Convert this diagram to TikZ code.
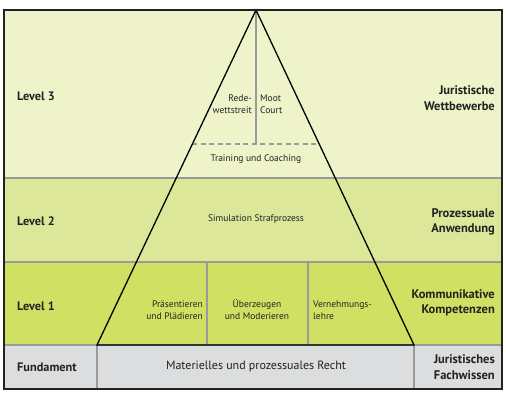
\documentclass[tikz,border=0pt]{standalone}
\usepackage{fontspec}
\setmainfont{PT Sans}
\definecolor{lvthree}{HTML}{EEF3C9}
\definecolor{lvtwo}{HTML}{DDE79A}
\definecolor{lvone}{HTML}{CFE062}
\definecolor{fund}{HTML}{DCDDDE}
\definecolor{divgray}{HTML}{9A9A9A}
\definecolor{txt}{HTML}{222222}
\begin{document}
\begin{tikzpicture}[x=1pt,y=-1pt,
  lvlabel/.style={font=\bfseries\fontsize{12.3}{15}\selectfont, text=txt, anchor=west, inner sep=0},
  rlabel/.style={font=\bfseries\fontsize{12.5}{15.5}\selectfont, text=txt, align=right, anchor=east, inner sep=0},
  small/.style={font=\fontsize{9.5}{12}\selectfont, text=txt, inner sep=0},
  divider/.style={draw=divgray, line width=1.1pt},
  tri/.style={draw=black, line width=1.3pt, line join=miter}]
\useasboundingbox (0,0) rectangle (506,407);
% bands
\fill[lvthree] (4,10) rectangle (502,178);
\fill[lvtwo] (4,178) rectangle (502,262);
\fill[lvone] (4,262) rectangle (502,345);
\fill[fund] (4,345) rectangle (502,389);
\draw[divider] (4,178) -- (502,178);
\draw[divider] (4,262) -- (502,262);
\draw[divider] (4,345) -- (502,345);
% coordinates
\coordinate (apex) at (256,10);
\coordinate (bl) at (97,345);
\coordinate (br) at (414,345);
\coordinate (fbl) at (97,389);
\coordinate (fbr) at (414,389);
\coordinate (d1t) at (207,262);
\coordinate (d1b) at (207,345);
\coordinate (d2t) at (308,262);
\coordinate (d2b) at (308,345);
\coordinate (vb) at (256,144);
\coordinate (dl) at (192.4,144);
\coordinate (dr) at (319.6,144);
% inner dividers
\draw[divider] (bl) -- (fbl);
\draw[divider] (br) -- (fbr);
\draw[divider] (d1t) -- (d1b);
\draw[divider] (d2t) -- (d2b);
\draw[divider] (apex) -- (vb);
\draw[draw=divgray, line width=1.1pt, dash pattern=on 5pt off 3.5pt] (dl) -- (dr);
% triangle
\draw[tri] (bl) -- (apex) -- (br) -- cycle;
% frame
\draw[draw=txt, line width=1.4pt] (4,10) rectangle (502,389);
% left labels
\node[lvlabel] (l3) at (17,96) {Level 3};
\node[lvlabel] (l2) at (17,221) {Level 2};
\node[lvlabel] (l1) at (17,306) {Level 1};
\node[lvlabel] (l0) at (17,367) {Fundament};
% right labels
\node[rlabel] (r3) at (495,98) {Juristische\\Wettbewerbe};
\node[rlabel] (r2) at (495,222) {Prozessuale\\Anwendung};
\node[rlabel] (r1) at (495,303) {Kommunikative\\Kompetenzen};
\node[rlabel] (r0) at (495,367) {Juristisches\\Fachwissen};
% inner texts
\node[small, align=right, anchor=east] (rede) at (252,104) {Rede-\\wettstreit};
\node[small, align=left, anchor=west] (moot) at (260,104) {Moot\\Court};
\node[small] (train) at (256,159) {Training und Coaching};
\node[small] (sim) at (256,219) {Simulation Strafprozess};
\node[small, align=right, anchor=east] (praes) at (203,310) {Präsentieren\\und Plädieren};
\node[small, align=center] (ueber) at (257,310) {Überzeugen\\und Moderieren};
\node[small, align=left, anchor=west] (vern) at (313,310) {Vernehmungs-\\lehre};
\node[font=\fontsize{12}{14}\selectfont, text=txt, inner sep=0] (mat) at (256,366) {Materielles und prozessuales Recht};
\end{tikzpicture}
\end{document}
